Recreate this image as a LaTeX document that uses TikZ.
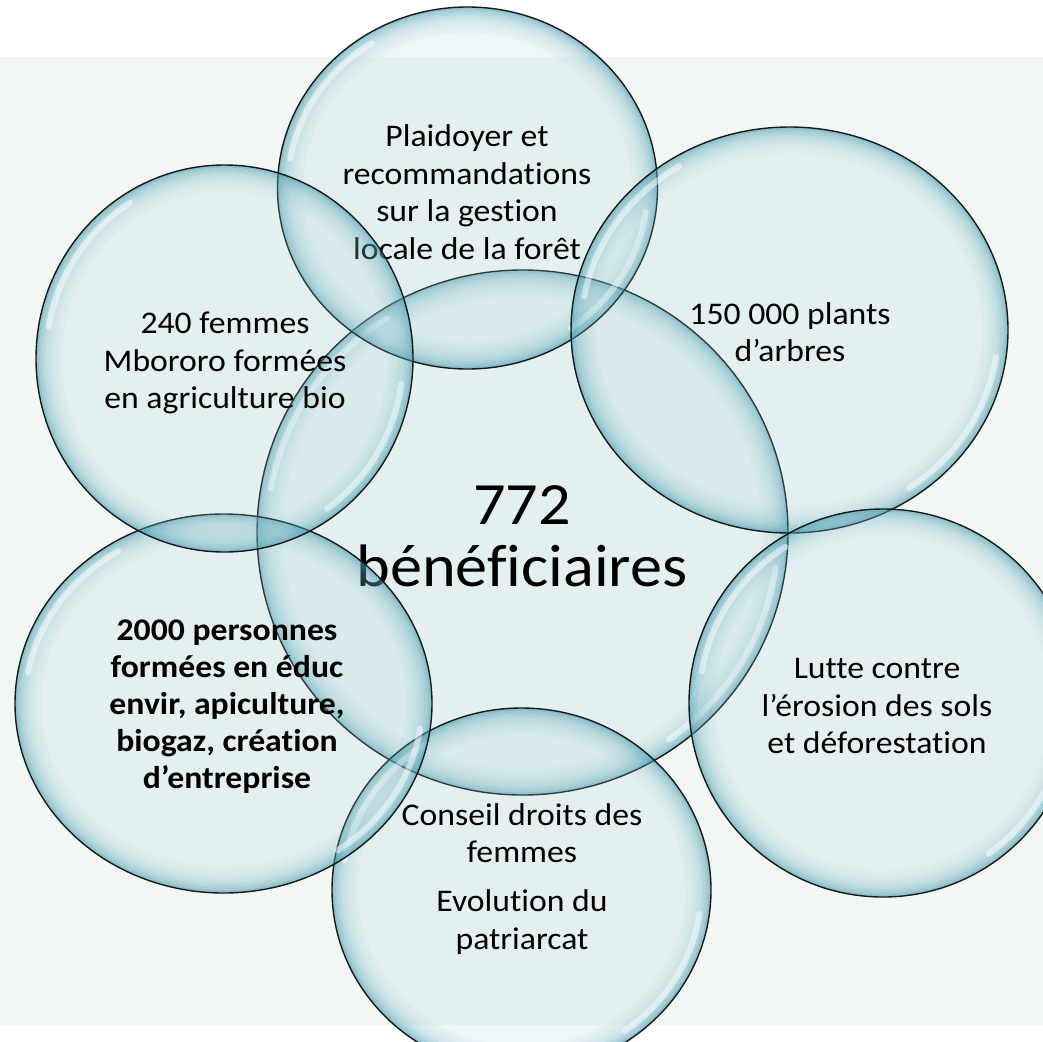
\documentclass[tikz,border=0pt]{standalone}
\usepackage{fontspec}
\setmainfont{Carlito}[FakeStretch=1.07,Ligatures={NoCommon}]
\definecolor{bgc}{RGB}{243,247,244}
\definecolor{bubc}{RGB}{165,210,220}
\definecolor{rimc}{RGB}{55,148,170}
\tikzset{
  bubfill/.style={fill=bubc, fill opacity=0.19},
  bubline/.style={draw=black!90, line width=1.4pt},
  rimline/.style={draw=rimc, line width=2.6pt},
  shine/.style={draw=white, line width=6pt, line cap=round},
  txt/.style={align=center, inner sep=0pt, text=black, font=\fontsize{31.5}{37.5}\selectfont},
  bigtxt/.style={align=center, inner sep=0pt, text=black, font=\fontsize{60}{62}\selectfont},
  boldtxt/.style={align=center, inner sep=0pt, text=black, font=\fontsize{31.5}{37}\selectfont\bfseries}
}
\newcommand\bubble[4]{%
  \fill[bubfill] (#1,#2) ellipse ({#3} and {#4});
  \foreach \kk/\op in {1/0.50,2/0.38,3/0.29,4/0.22,5/0.17,6/0.13,7/0.10,8/0.07,9/0.05,10/0.03}{
    \draw[rimline, draw opacity=\op] (#1,#2) ellipse ({#3-(\kk-0.5)*2.6} and {#4-(\kk-0.5)*2.6});
  }
  \pgfmathsetmacro\hrx{#3-10}\pgfmathsetmacro\hry{#4-10}%
  \pgfmathsetmacro\pax{#1+\hrx*cos(190)}\pgfmathsetmacro\pay{#2+\hry*sin(190)}%
  \pgfmathsetmacro\pbx{#1+\hrx*cos(8)}\pgfmathsetmacro\pby{#2+\hry*sin(8)}%
  \draw[shine, draw opacity=0.5] (\pax,\pay) arc[start angle=190, end angle=238, x radius=\hrx, y radius=\hry];
  \draw[shine, draw opacity=0.5] (\pbx,\pby) arc[start angle=8, end angle=55, x radius=\hrx, y radius=\hry];
  \draw[bubline] (#1,#2) ellipse ({#3} and {#4});
}
\begin{document}
\begin{tikzpicture}[x=1pt,y=-1pt]
  \useasboundingbox (0,0) rectangle (1043,1041);
  \clip (0,0) rectangle (1043,1041);
  \fill[white] (0,0) rectangle (1043,1041);
  \fill[bgc] (0,57) rectangle (1043,1025);

  % centre
  \bubble{522.5}{532.5}{265.5}{262.5}
  \node[bigtxt] (tC) at (522,536) {772\\bénéficiaires};
  % top
  \bubble{467.5}{188}{190}{181}
  \node[txt] (tT) at (467,192) {Plaidoyer et\\recommandations\\sur la gestion\\locale de la forêt};
  % upper right
  \bubble{789.5}{330}{218.5}{203}
  \node[txt] (tUR) at (790,332) {150 000 plants\\d’arbres};
  % lower right
  \bubble{883}{703}{194}{194}
  \node[txt] (tLR) at (877,706) {Lutte contre\\l’érosion des sols\\et déforestation};
  % bottom
  \bubble{521.5}{890}{189.5}{182}
  \node[txt] (tB1) at (522,833) {Conseil droits des\\femmes};
  \node[txt] (tB2) at (522,922) {Evolution du\\patriarcat};
  % lower left
  \bubble{223.5}{703.5}{208.5}{189.5}
  \node[boldtxt] (tLL) at (227,707) {2000 personnes\\formées en éduc\\envir, apiculture,\\biogaz, création\\d’entreprise};
  % upper left
  \bubble{224.5}{358.5}{188.5}{193.5}
  \node[txt] (tUL) at (225,363) {240 femmes\\Mbororo formées\\en agriculture bio};
\end{tikzpicture}
\end{document}
